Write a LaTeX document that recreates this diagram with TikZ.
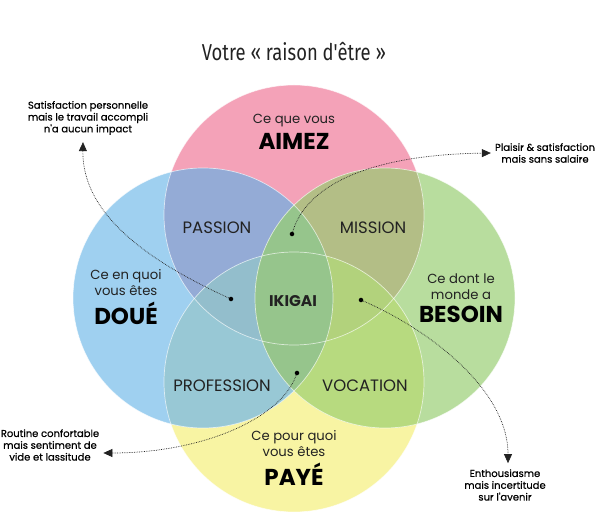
\documentclass[tikz,border=0pt]{standalone}
\usepackage{fontspec}
\setmainfont{Poppins}
\newfontfamily\titlefont[FakeStretch=0.8]{Fira Sans}
\newfontfamily\notefont[FakeBold=0.6]{Poppins}
\usetikzlibrary{arrows.meta}
\definecolor{ikpink}{HTML}{F4A2B8}
\definecolor{ikblue}{HTML}{9FD0F0}
\definecolor{ikgreen}{HTML}{B8DD9E}
\definecolor{ikyellow}{HTML}{F8F4A3}
\definecolor{passionc}{HTML}{94ABD6}
\definecolor{missionc}{HTML}{B3BE86}
\definecolor{professionc}{HTML}{98C8D5}
\definecolor{vocationc}{HTML}{B7DA7F}
\definecolor{pbyc}{HTML}{93BECC}
\definecolor{pgyc}{HTML}{B2D27C}
\definecolor{ikigaic}{HTML}{96C58C}
\definecolor{inkgray}{HTML}{222222}
\newcommand{\rad}{130pt}
\tikzset{
  ring/.style={draw=white,draw opacity=0.65,line width=0.7pt},
  what/.style={align=center,text=inkgray,font=\fontsize{13.2}{16}\selectfont},
  zone/.style={text=inkgray,font=\fontsize{16.5}{18}\selectfont},
  note/.style={align=center,inner sep=0pt,text=black,font=\notefont\fontsize{10}{11.8}\selectfont},
  dot/.style={circle,fill=black,inner sep=1.6pt},
  callout/.style={densely dotted,line width=0.7pt,draw=inkgray,-{Triangle[length=9pt,width=8pt]}},
}
\newcommand{\bigword}[1]{{\fontsize{23}{24}\selectfont\bfseries\color{black}#1}}
\begin{document}
\begin{tikzpicture}[x=1pt,y=-1pt]
  \useasboundingbox (0,0) rectangle (600,526);
  \coordinate (cp) at (294,215); \coordinate (cb) at (203,298);
  \coordinate (cg) at (385,298); \coordinate (cy) at (294,382);
  % four circles
  \fill[ikyellow] (cy) circle[radius=\rad];
  \fill[ikpink] (cp) circle[radius=\rad];
  \fill[ikblue] (cb) circle[radius=\rad];
  \fill[ikgreen] (cg) circle[radius=\rad];
  % overlaps
  \begin{scope} \clip (cp) circle[radius=\rad]; \fill[passionc] (cb) circle[radius=\rad]; \end{scope}
  \begin{scope} \clip (cp) circle[radius=\rad]; \fill[missionc] (cg) circle[radius=\rad]; \end{scope}
  \begin{scope} \clip (cy) circle[radius=\rad]; \fill[professionc] (cb) circle[radius=\rad]; \end{scope}
  \begin{scope} \clip (cy) circle[radius=\rad]; \fill[vocationc] (cg) circle[radius=\rad]; \end{scope}
  \begin{scope} \clip (cy) circle[radius=\rad]; \clip (cp) circle[radius=\rad];
    \fill[pbyc] (cb) circle[radius=\rad]; \fill[pgyc] (cg) circle[radius=\rad]; \end{scope}
  \begin{scope} \clip (cb) circle[radius=\rad]; \fill[ikigaic] (cg) circle[radius=\rad]; \end{scope}
  \foreach \c in {cp,cb,cg,cy} \draw[ring] (\c) circle[radius=\rad];

  \node[font=\titlefont\fontsize{23}{25}\selectfont,text=inkgray] (title) at (294,52) {Votre «~raison d'être~»};

  \node[what] (aimez) at (294,132) {Ce que vous\\[5pt]\bigword{AIMEZ}};
  \node[what] (doue) at (126,297) {Ce en quoi\\vous êtes\\[5pt]\bigword{DOUÉ}};
  \node[what] (besoin) at (461,298) {Ce dont le\\monde a\\[5pt]\bigword{BESOIN}};
  \node[what] (paye) at (294,458) {Ce pour quoi\\vous êtes\\[5pt]\bigword{PAYÉ}};

  \node[zone] (passion) at (217,228) {PASSION};
  \node[zone] (mission) at (373,228) {MISSION};
  \node[zone,font=\fontsize{15.5}{17}\selectfont\bfseries] (ikigai) at (293,301) {IKIGAI};
  \node[zone] (profession) at (222,386) {PROFESSION};
  \node[zone] (vocation) at (365,386) {VOCATION};

  \node[note] (n1) at (88,118) {Satisfaction personnelle\\mais le travail accompli\\n'a aucun impact};
  \node[note] (n2) at (545,153) {Plaisir \& satisfaction\\mais sans salaire};
  \node[note] (n3) at (50,445) {Routine confortable\\mais sentiment de\\vide et lassitude};
  \node[note] (n4) at (505,485) {Enthousiasme\\mais incertitude\\sur l'avenir};

  \node[dot] (d1) at (231,299) {};
  \node[dot] (d2) at (292,234) {};
  \node[dot] (d3) at (361,300) {};
  \node[dot] (d4) at (297,373) {};

  \draw[callout] (d1) .. controls (150,262) and (82,215) .. ([xshift=-5pt,yshift=-7pt]n1.south);
  \draw[callout] (d2) .. controls (305,190) and (360,155) .. ([xshift=-4pt]n2.west);
  \draw[callout] (d3) .. controls (430,330) and (508,390) .. ([xshift=3pt,yshift=6pt]n4.north);
  \draw[callout] (d4) .. controls (280,420) and (200,453) .. ([xshift=4pt,yshift=-8pt]n3.east);
\end{tikzpicture}
\end{document}
